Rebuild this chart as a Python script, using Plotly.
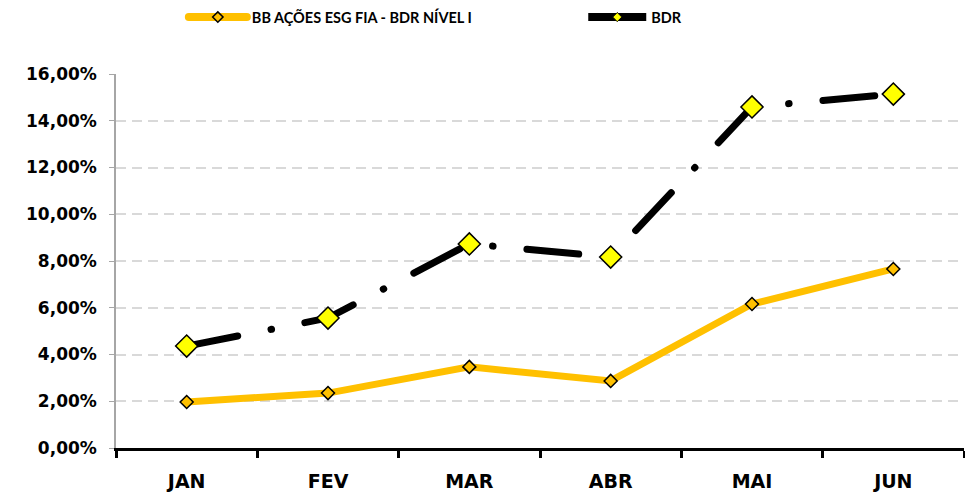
import plotly.graph_objects as go

# Monthly returns (fractions) for the fund and its benchmark
months = ["JAN", "FEV", "MAR", "ABR", "MAI", "JUN"]
fund_name = "BB AÇÕES ESG FIA - BDR NÍVEL I"
fund_returns = [0.0197, 0.0235, 0.0347, 0.0287, 0.0616, 0.0766]
bench_name = "BDR"
bench_returns = [0.0436, 0.0556, 0.0873, 0.0817, 0.1459, 0.1514]
y_ticks = [0.0, 0.02, 0.04, 0.06, 0.08, 0.10, 0.12, 0.14, 0.16]

LEGEND_FONT = "Lato, Liberation Sans, sans-serif"
AXIS_FONT = "DejaVu Sans, Verdana, sans-serif"

FUND_LINE = dict(color="#FFC000", width=7)
BENCH_LINE = dict(color="#000000", width=7, dash="52px,34px,0.5px,34px")

fig = go.Figure()
fig.add_trace(go.Scatter(
    x=months, y=fund_returns, name=fund_name, mode="lines+markers",
    line=FUND_LINE,
    marker=dict(symbol="diamond", size=10, color="#FFC000",
                line=dict(color="#000000", width=1.5)),
    showlegend=False,
))
fig.add_trace(go.Scatter(
    x=months, y=bench_returns, name=bench_name, mode="lines+markers",
    line=BENCH_LINE,
    marker=dict(symbol="diamond", size=17, color="#FFFF00",
                line=dict(color="#000000", width=1.5)),
    showlegend=False,
))

# Legend entries with the smaller key markers
fig.add_trace(go.Scatter(
    x=[None], y=[None], name=fund_name, mode="lines+markers",
    line=dict(color="#FFC000", width=8),
    marker=dict(symbol="diamond", size=8, color="#FFC000",
                line=dict(color="#000000", width=1.5)),
    legend="legend", hoverinfo="skip",
))
fig.add_trace(go.Scatter(
    x=[None], y=[None], name=bench_name, mode="lines+markers",
    line=dict(color="#000000", width=8),
    marker=dict(symbol="diamond", size=7, color="#FFFF00",
                line=dict(color="#000000", width=1)),
    legend="legend2", hoverinfo="skip",
))

legend_common = dict(
    orientation="h", xanchor="left", yanchor="middle", y=1.152,
    font=dict(family=LEGEND_FONT, size=14.5, weight="bold"),
    bgcolor="rgba(0,0,0,0)", itemwidth=58,
)

fig.update_layout(
    width=965, height=495,
    margin=dict(l=116, r=1, t=74, b=47, autoexpand=False),
    paper_bgcolor="white", plot_bgcolor="white",
    separators=",.",
    font=dict(family=AXIS_FONT, color="#000000"),
    showlegend=True,
    legend=dict(x=0.080, **legend_common),
    legend2=dict(x=0.551, **legend_common),
    xaxis=dict(
        type="category", range=[-0.5, 5.5],
        showline=True, linecolor="#000000", linewidth=3,
        ticks="outside", tickson="boundaries", ticklen=7, tickwidth=3,
        tickcolor="#000000", showgrid=False,
        tickfont=dict(family=AXIS_FONT, size=19, weight="bold"),
        ticklabelstandoff=14,
    ),
    yaxis=dict(
        range=[0, 0.16], tickvals=y_ticks, tickformat=".2%",
        showline=True, linecolor="#A6A6A6", linewidth=1.5,
        ticks="outside", ticklen=5, tickcolor="#A6A6A6", tickwidth=1,
        showgrid=True, gridcolor="#D9D9D9", gridwidth=1.5, griddash="10px,6px",
        zeroline=False,
        tickfont=dict(family=AXIS_FONT, size=17, weight="bold"),
        ticklabelstandoff=9,
    ),
)

# Round line caps so the benchmark's dash-dot pattern shows round dots
round_caps = """
function roundCaps(){
  document.querySelectorAll('.scatterlayer .js-line, .legend .js-line').forEach(function(p){
    p.style.strokeLinecap = 'round';
  });
}
roundCaps();
var gd = document.getElementsByClassName('plotly-graph-div')[0];
if (gd && gd.on) { gd.on('plotly_afterplot', roundCaps); }
"""

fig.write_html("out.html", post_script=round_caps)
